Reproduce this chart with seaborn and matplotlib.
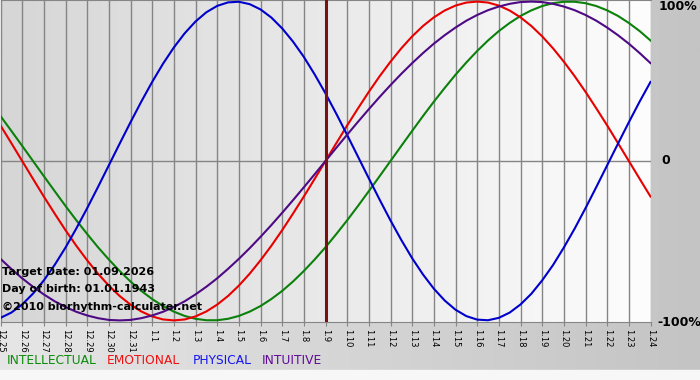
import numpy as np
import pandas as pd
import seaborn as sns
import matplotlib
matplotlib.use("Agg")
import matplotlib.pyplot as plt
from matplotlib.colors import LinearSegmentedColormap

days = ['12.25', '12.26', '12.27', '12.28', '12.29', '12.30', '12.31',
        '1.1', '1.2', '1.3', '1.4', '1.5', '1.6', '1.7', '1.8', '1.9',
        '1.10', '1.11', '1.12', '1.13', '1.14', '1.15', '1.16', '1.17',
        '1.18', '1.19', '1.20', '1.21', '1.22', '1.23', '1.24']

# values read every half day, from 12.25 to 1.24
intellectual = [0.282, 0.189, 0.095, 0.000, -0.095, -0.189, -0.282, -0.372, -0.458, -0.541,
                -0.618, -0.690, -0.756, -0.815, -0.866, -0.910, -0.945, -0.972, -0.990, -0.999,
                -0.999, -0.990, -0.972, -0.945, -0.910, -0.866, -0.815, -0.756, -0.690, -0.618,
                -0.541, -0.458, -0.372, -0.282, -0.189, -0.095, 0.000, 0.095, 0.189, 0.282,
                0.372, 0.458, 0.541, 0.618, 0.690, 0.756, 0.815, 0.866, 0.910, 0.945,
                0.972, 0.990, 0.999, 0.999, 0.990, 0.972, 0.945, 0.910, 0.866, 0.815, 0.756]
emotional = [0.223, 0.112, 0.000, -0.112, -0.223, -0.330, -0.434, -0.532, -0.623, -0.707,
             -0.782, -0.847, -0.901, -0.944, -0.975, -0.994, -1.000, -0.994, -0.975, -0.944,
             -0.901, -0.847, -0.782, -0.707, -0.623, -0.532, -0.434, -0.330, -0.223, -0.112,
             0.000, 0.112, 0.223, 0.330, 0.434, 0.532, 0.623, 0.707, 0.782, 0.847,
             0.901, 0.944, 0.975, 0.994, 1.000, 0.994, 0.975, 0.944, 0.901, 0.847,
             0.782, 0.707, 0.623, 0.532, 0.434, 0.330, 0.223, 0.112, 0.000, -0.112, -0.223]
physical = [-0.984, -0.951, -0.900, -0.832, -0.749, -0.652, -0.543, -0.423, -0.296, -0.163,
            -0.027, 0.109, 0.243, 0.373, 0.496, 0.610, 0.712, 0.801, 0.875, 0.933,
            0.973, 0.995, 0.999, 0.984, 0.951, 0.900, 0.832, 0.749, 0.653, 0.543,
            0.424, 0.296, 0.163, 0.027, -0.109, -0.243, -0.373, -0.496, -0.610, -0.712,
            -0.801, -0.875, -0.933, -0.973, -0.995, -0.999, -0.984, -0.951, -0.900, -0.833,
            -0.749, -0.653, -0.543, -0.424, -0.296, -0.163, -0.027, 0.109, 0.243, 0.373, 0.496]
intuitive = [-0.614, -0.677, -0.736, -0.789, -0.837, -0.880, -0.916, -0.946, -0.969, -0.986,
             -0.997, -1.000, -0.997, -0.986, -0.969, -0.946, -0.916, -0.880, -0.837, -0.789,
             -0.736, -0.677, -0.614, -0.547, -0.476, -0.402, -0.325, -0.246, -0.165, -0.083,
             0.000, 0.083, 0.165, 0.246, 0.325, 0.402, 0.476, 0.547, 0.614, 0.677,
             0.736, 0.789, 0.837, 0.880, 0.916, 0.946, 0.969, 0.986, 0.997, 1.000,
             0.997, 0.986, 0.969, 0.946, 0.916, 0.880, 0.837, 0.789, 0.736, 0.677, 0.614]

target_day = '1.9'

series = {'INTELLECTUAL': intellectual, 'EMOTIONAL': emotional,
          'PHYSICAL': physical, 'INTUITIVE': intuitive}
line_colors = {'INTELLECTUAL': '#0b800b', 'EMOTIONAL': '#e80000',
               'PHYSICAL': '#0000cc', 'INTUITIVE': '#4e0a85'}
text_colors = {'INTELLECTUAL': '#0a8a0a', 'EMOTIONAL': '#f01010',
               'PHYSICAL': '#1515f0', 'INTUITIVE': '#600a96'}

rows = []
for name, vals in series.items():
    for j, v in enumerate(vals):
        rows.append({'day': j / 2, 'value': v, 'series': name})
df = pd.DataFrame(rows)

fig = plt.figure(figsize=(7, 3.8), dpi=100)

# figure background gradient
bg = fig.add_axes([0, 0, 1, 1], zorder=-5)
bg_cmap = LinearSegmentedColormap.from_list('bg', ['#e6e6e6', '#c4c4c4'])
bg.imshow(np.linspace(0, 1, 256)[None, :], aspect='auto', cmap=bg_cmap,
          extent=[0, 1, 0, 1])
bg.axhspan(0, 10 / 380, color='#f7f7f7')
bg.set_xlim(0, 1)
bg.set_ylim(0, 1)
bg.axis('off')

ax = fig.add_axes([0.5 / 700, 58 / 380, 650 / 700, 322 / 380])
ax.set_xlim(0, len(days) - 1)
ax.set_ylim(-1.01, 1.01)

plot_cmap = LinearSegmentedColormap.from_list('pl', ['#d6d6d6', '#fdfdfd'])
ax.imshow(np.linspace(0, 1, 256)[None, :], aspect='auto', cmap=plot_cmap,
          extent=[0, len(days) - 1, -1.01, 1.01], zorder=0)

for i in range(len(days)):
    ax.axvline(i, color='#858585', lw=1, zorder=1)
ax.axhline(0, color='#858585', lw=1, zorder=1)

sns.lineplot(data=df, x='day', y='value', hue='series', palette=line_colors,
             linewidth=1.5, legend=False, ax=ax, zorder=3)

ax.axvline(days.index(target_day), color='#761212', lw=2.2, zorder=4)

ax.set_xticks(range(len(days)))
ax.set_xticklabels(days, rotation=270, fontsize=6)
ax.tick_params(axis='x', length=3, color='#858585', pad=2)
ax.set_yticks([])
ax.set_xlabel('')
ax.set_ylabel('')
for side in ['top', 'bottom']:
    ax.spines[side].set_color('#858585')
for side in ['left', 'right']:
    ax.spines[side].set_visible(False)

# right side percentage labels
fig.text(659 / 700, 1 - 7 / 380, '100%', fontsize=9, fontweight='bold', va='center')
fig.text(661 / 700, 1 - 161 / 380, '0', fontsize=9, fontweight='bold', va='center')
fig.text(657 / 700, 1 - 322 / 380, '-100%', fontsize=9, fontweight='bold', va='center')

# info text
info = ['Target Date: 01.09.2026', 'Day of birth: 01.01.1943',
        '\u00a92010 biorhythm-calculater.net']
for k, t in enumerate(info):
    fig.text(2 / 700, 1 - (272 + 17.5 * k) / 380, t, fontsize=8,
             fontweight='bold', va='center', zorder=10)

# colored legend row
leg_x = [7, 107, 193, 262]
for (name, col), x in zip(text_colors.items(), leg_x):
    fig.text(x / 700, 1 - 361 / 380, name, color=col, fontsize=8.8, va='center')

fig.savefig('out.png', dpi=100)
